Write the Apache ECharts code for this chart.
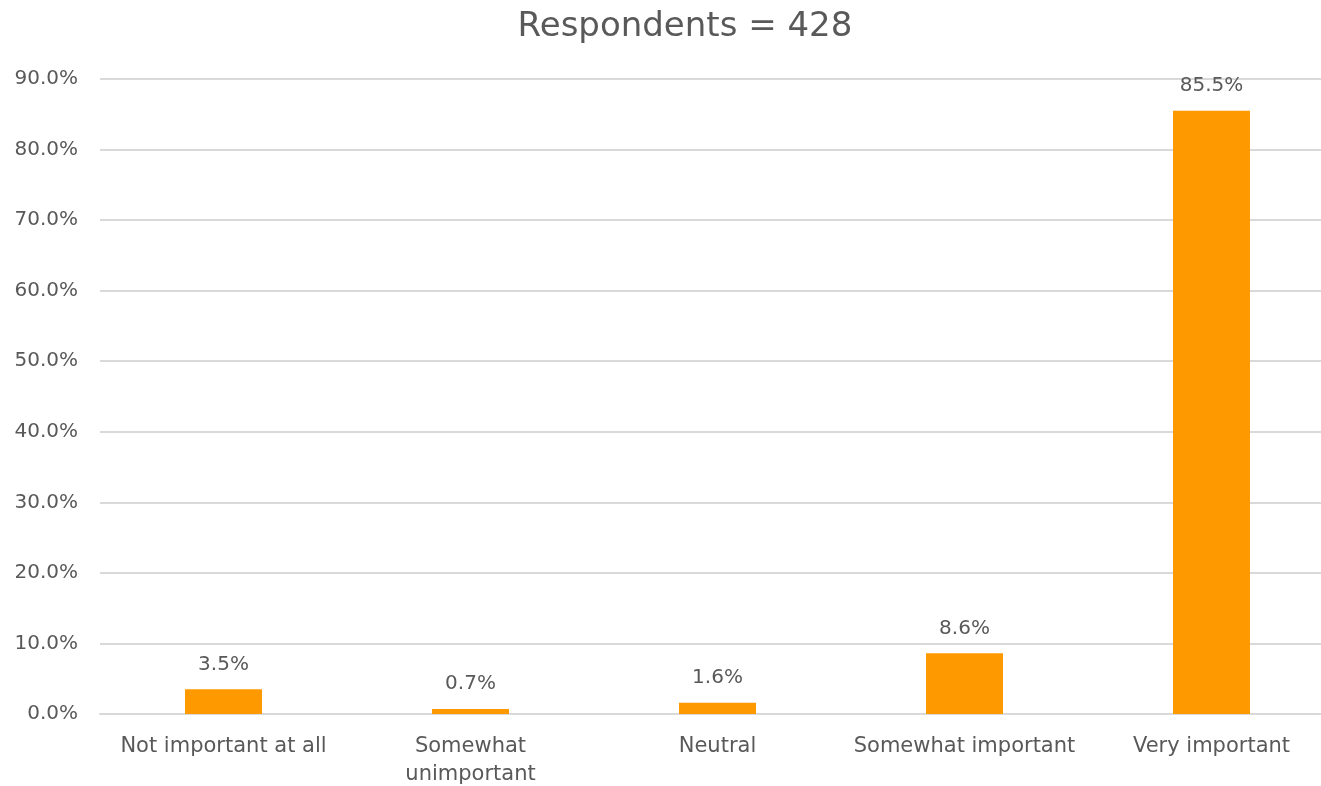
<!DOCTYPE html>
<html>
<head>
<meta charset="utf-8">
<script src="https://cdn.jsdelivr.net/npm/echarts@6/dist/echarts.min.js"></script>
<style>
  html, body { margin: 0; padding: 0; background: #ffffff; }
  #chart { width: 1321px; height: 786px; }
</style>
</head>
<body>
<div id="chart"></div>
<script>
const titleText = 'Respondents = 428';
const categories = ['Not important at all', 'Somewhat\nunimportant', 'Neutral', 'Somewhat important', 'Very important'];
const shares = [3.5, 0.7, 1.6, 8.6, 85.5];
const yMin = 0;
const yMax = 90;
const yStep = 10;

const fontFamily = '"Century Gothic", "DejaVu Sans", sans-serif';
const textColor = '#595959';

const chart = echarts.init(document.getElementById('chart'), null, { renderer: 'canvas' });
chart.setOption({
  backgroundColor: '#ffffff',
  animation: false,
  textStyle: { fontFamily: fontFamily },
  title: {
    text: titleText,
    left: 680,
    textAlign: 'center',
    top: 5,
    textStyle: { fontFamily: fontFamily, fontSize: 34, fontWeight: 'normal', color: textColor }
  },
  grid: { left: 100, right: -14, top: 79, bottom: 72, containLabel: false, outerBoundsMode: 'none' },
  xAxis: {
    type: 'category',
    data: categories,
    axisTick: { show: false },
    axisLine: { show: true, lineStyle: { color: '#d9d9d9', width: 2 } },
    axisLabel: {
      color: textColor, fontSize: 21, fontFamily: fontFamily,
      margin: 19, lineHeight: 28, interval: 0
    }
  },
  yAxis: {
    type: 'value',
    min: yMin,
    max: yMax,
    interval: yStep,
    axisLine: { show: false },
    axisTick: { show: false },
    splitLine: { lineStyle: { color: '#d9d9d9', width: 2 } },
    axisLabel: {
      color: textColor, fontSize: 20, fontFamily: fontFamily, margin: 22,
      formatter: v => v.toFixed(1) + '%'
    }
  },
  series: [{
    type: 'bar',
    data: shares,
    barWidth: 77,
    itemStyle: { color: '#ff9900' },
    label: {
      show: true,
      position: 'top',
      distance: 15,
      color: textColor,
      fontSize: 20,
      fontFamily: fontFamily,
      formatter: p => p.value.toFixed(1) + '%'
    }
  }]
});
</script>
</body>
</html>
